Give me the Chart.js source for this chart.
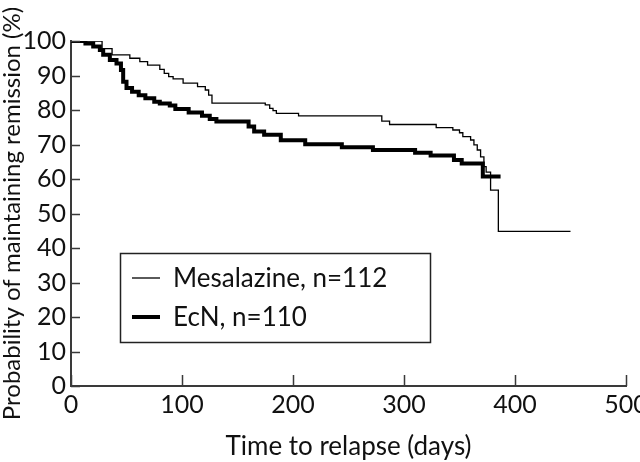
<!DOCTYPE html>
<html>
<head>
<meta charset="utf-8">
<script src="https://cdn.jsdelivr.net/npm/chart.js@4.4.1/dist/chart.umd.min.js"></script>
<style>
  html, body { margin: 0; padding: 0; background: #fff; }
  #wrap { width: 640px; height: 462px; }
</style>
</head>
<body>
<div id="wrap"><canvas id="kmChart" width="640" height="462"></canvas></div>
<script>
// Kaplan-Meier steps: day of event, % still in remission after it
const mesDays = [0, 28, 37, 53, 62, 69, 80, 84, 88, 92, 101, 114, 121, 124, 127, 175, 179, 182, 185, 205, 280, 287, 329, 344, 350, 353, 360, 363, 366, 369, 372, 374, 378, 385, 450];
const mesProb = [100, 97.8, 96.0, 95.0, 94.0, 93.0, 91.8, 90.6, 89.7, 89.0, 87.8, 86.8, 85.8, 84.3, 82.0, 81.5, 80.5, 79.8, 79.0, 78.3, 76.8, 75.8, 74.9, 74.2, 73.4, 72.3, 71.3, 69.9, 68.4, 66.4, 63.6, 62.0, 56.8, 44.8, 44.8];

const ecnDays = [0, 13, 20, 26, 29, 35, 41, 45, 47, 50, 55, 61, 67, 75, 80, 89, 94, 106, 118, 125, 131, 160, 165, 174, 189, 211, 244, 272, 310, 324, 345, 352, 371, 387];
const ecnProb = [100, 99.3, 98.4, 97.4, 96.0, 94.5, 93.5, 91.6, 88.2, 86.4, 85.3, 84.3, 83.4, 82.4, 81.9, 81.3, 80.3, 79.3, 78.3, 77.4, 76.7, 75.2, 73.8, 72.8, 71.2, 70.1, 69.2, 68.4, 67.6, 66.8, 65.5, 64.5, 60.7, 60.7];

const seriesNames = ['Mesalazine, n=112', 'EcN, n=110'];
const xTicks = [0, 100, 200, 300, 400, 500];
const yTicks = [0, 10, 20, 30, 40, 50, 60, 70, 80, 90, 100];

const toPoints = (days, prob) => days.map((d, i) => ({ x: d, y: prob[i] }));

const FONT = 'Lato, "DejaVu Sans", sans-serif';
const AXIS = '#3a3a3a';

// tick marks point into the plot, so draw them ourselves
const inwardTicks = {
  id: 'inwardTicks',
  afterDraw(chart) {
    const ctx = chart.ctx;
    const area = chart.chartArea;
    const xs = chart.scales.x, ys = chart.scales.y;
    ctx.save();
    ctx.strokeStyle = AXIS;
    ctx.lineWidth = 1.5;
    ctx.beginPath();
    xs.ticks.forEach(t => {
      const px = Math.round(xs.getPixelForValue(t.value)) + 0.5;
      ctx.moveTo(px, area.bottom);
      ctx.lineTo(px, area.bottom - 11);
    });
    ys.ticks.forEach(t => {
      const py = Math.round(ys.getPixelForValue(t.value)) + 0.5;
      ctx.moveTo(area.left, py);
      ctx.lineTo(area.left + 9, py);
    });
    ctx.stroke();
    ctx.restore();
  }
};

// boxed legend inside the plot
const boxLegend = {
  id: 'boxLegend',
  afterDraw(chart) {
    const ctx = chart.ctx;
    const bx = 120, by = 253, bw = 310, bh = 89;
    ctx.save();
    ctx.fillStyle = '#fff';
    ctx.fillRect(bx, by, bw, bh);
    ctx.strokeStyle = '#222';
    ctx.lineWidth = 1.5;
    ctx.strokeRect(bx + 0.5, by + 0.5, bw, bh);
    ctx.font = '26px ' + FONT;
    ctx.textBaseline = 'middle';
    ctx.fillStyle = '#111';
    chart.data.datasets.forEach((ds, i) => {
      const cy = by + 25 + i * 39;
      ctx.strokeStyle = ds.borderColor;
      ctx.lineWidth = ds.borderWidth;
      ctx.beginPath();
      ctx.moveTo(bx + 12, cy);
      ctx.lineTo(bx + 40, cy);
      ctx.stroke();
      ctx.fillText(ds.label, bx + 53, cy + 1);
    });
    ctx.restore();
  }
};

const ctx = document.getElementById('kmChart').getContext('2d');
const kmChart = new Chart(ctx, {
  type: 'line',
  data: {
    datasets: [
      {
        label: seriesNames[0],
        data: toPoints(mesDays, mesProb),
        borderColor: '#000',
        borderWidth: 1.3,
        stepped: true,
        pointRadius: 0,
        fill: false
      },
      {
        label: seriesNames[1],
        data: toPoints(ecnDays, ecnProb),
        borderColor: '#000',
        borderWidth: 4,
        stepped: true,
        pointRadius: 0,
        fill: false
      }
    ]
  },
  options: {
    responsive: false,
    animation: false,
    layout: { padding: { top: 41, right: 14, left: 0, bottom: 0 } },
    plugins: { legend: { display: false }, tooltip: { enabled: false } },
    scales: {
      x: {
        type: 'linear',
        min: 0, max: 500,
        afterBuildTicks: s => { s.ticks = xTicks.map(v => ({ value: v })); },
        afterFit: s => { s.height = 76; s.paddingLeft = 0; s.paddingRight = 0; },
        grid: { display: false, drawTicks: false },
        border: { display: true, color: AXIS, width: 2 },
        ticks: { color: '#111', font: { family: FONT, size: 25 }, padding: 4, maxRotation: 0 },
        title: {
          display: true,
          text: 'Time to relapse (days)',
          color: '#111',
          font: { family: FONT, size: 26 },
          padding: { top: 2, bottom: 0 }
        }
      },
      y: {
        min: 0, max: 100,
        afterBuildTicks: s => { s.ticks = yTicks.map(v => ({ value: v })); },
        afterFit: s => { s.width = 71; s.paddingTop = 0; s.paddingBottom = 0; },
        grid: { display: false, drawTicks: false },
        border: { display: true, color: AXIS, width: 2 },
        ticks: { color: '#111', font: { family: FONT, size: 25 }, padding: 5 },
        title: {
          display: true,
          text: 'Probability of maintaining remission (%)',
          color: '#111',
          font: { family: FONT, size: 24, lineHeight: 1 },
          padding: { top: 0, bottom: 0 }
        }
      }
    }
  },
  plugins: [inwardTicks, boxLegend]
});
</script>
</body>
</html>
